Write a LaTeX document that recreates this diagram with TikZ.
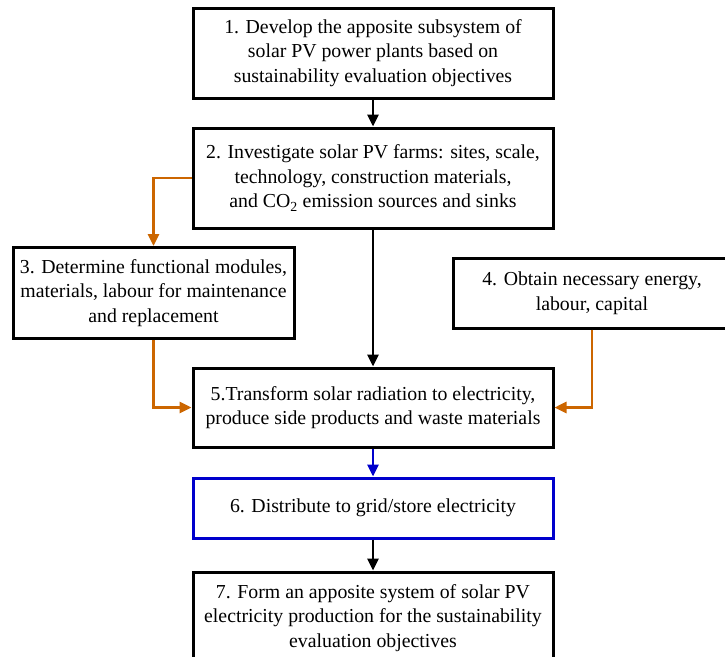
\documentclass[tikz,border=0pt]{standalone}
\usepackage{fontspec}
\setmainfont{Liberation Serif}
\usetikzlibrary{arrows.meta}
\definecolor{flowor}{RGB}{204,102,0}
\definecolor{flowbl}{RGB}{0,0,204}
\begin{document}
\begin{tikzpicture}[x=1pt,y=-1pt,
  stepbox/.style={draw=black,line width=3pt,fill=white,inner sep=0pt,
    align=center,font=\fontsize{19.8}{24.5}\selectfont},
  flow/.style={line width=2.8pt,-{Triangle[length=12pt,width=11pt]}},
  flowo/.style={flow,color=flowor},
  flowb/.style={flow,color=flowbl}]
\useasboundingbox (0,0) rectangle (725,656);
\clip (0,0) rectangle (725,656);

% process steps
\node[stepbox,minimum width=360pt,minimum height=90pt] (b1) at (373,53)
  {1. Develop the apposite subsystem of\\solar PV power plants based on\\sustainability evaluation objectives};
\node[stepbox,minimum width=360pt,minimum height=100pt] (b2) at (373,178)
  {2. Investigate solar PV farms: sites, scale,\\technology, construction materials,\\and CO\textsubscript{2} emission sources and sinks};
\node[stepbox,minimum width=281pt,minimum height=91pt] (b3) at (153.5,293)
  {3. Determine functional modules,\\materials, labour for maintenance\\and replacement};
\node[stepbox,minimum width=278pt,minimum height=70pt] (b4) at (592,293)
  {4. Obtain necessary energy,\\labour, capital};
\node[stepbox,minimum width=360pt,minimum height=79pt] (b5) at (373,407.5)
  {5.Transform solar radiation to electricity,\\produce side products and waste materials};
\node[stepbox,draw=flowbl,minimum width=360pt,minimum height=60pt] (b6) at (373,508)
  {6. Distribute to grid/store electricity};
\node[stepbox,minimum width=360pt,minimum height=92pt] (b7) at (373,618)
  {7. Form an apposite system of solar PV\\electricity production for the sustainability\\evaluation objectives};

% connectors
\draw[flow] (b1.south) -- (b2.north);
\draw[flowo] (b2.west) -| (b3.north);
\draw[flow] (b2.south) -- (b5.north);
\draw[flowo] (b3.south) |- (b5.west);
\draw[flowo] (b4.south) |- (b5.east);
\draw[flowb] (b5.south) -- (b6.north);
\draw[flow] (b6.south) -- (b7.north);
\end{tikzpicture}
\end{document}
